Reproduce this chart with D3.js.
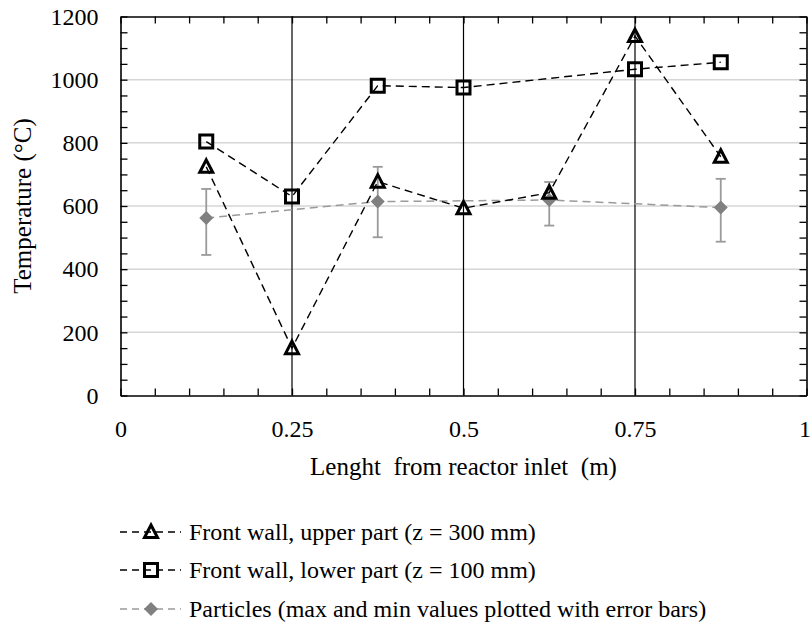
<!DOCTYPE html>
<html>
<head>
<meta charset="utf-8">
<script src="https://cdn.jsdelivr.net/npm/d3@7"></script>
<style>
  body { margin: 0; background: #fff; }
  svg text { font-family: 'Liberation Serif', 'DejaVu Serif', serif !important; fill: #000; }
</style>
</head>
<body>
<script>
// data
var upperX = [0.125, 0.25, 0.375, 0.5, 0.625, 0.75, 0.875];
var upperT = [724, 150, 677, 593, 642, 1138, 756];

var lowerX = [0.125, 0.25, 0.375, 0.5, 0.75, 0.875];
var lowerT = [804, 630, 981, 975, 1033, 1055];

var partX = [0.125, 0.375, 0.625, 0.875];
var partT = [562, 614, 619, 595];
var partMax = [654, 724, 676, 686];
var partMin = [445, 501, 538, 487];

var xTicks = [0, 0.25, 0.5, 0.75, 1];
var xTickLabels = ["0", "0.25", "0.5", "0.75", "1"];
var yTicks = [0, 200, 400, 600, 800, 1000, 1200];
var gridY = [200, 400, 600, 800, 1000];
var vLines = [0.25, 0.5, 0.75];

var legendLabels = [
    "Front wall, upper part (z = 300 mm)",
    "Front wall, lower part (z = 100 mm)",
    "Particles (max and min values plotted with error bars)"
];

var serif = "'Liberation Serif', 'DejaVu Serif', serif";

var margin = {top: 16.5, left: 120.5},
    width = 686,
    height = 379;

var svg = d3.select("body").append("svg")
    .attr("width", 811)
    .attr("height", 631)
    .style("font-family", serif);

var g = svg.append("g")
    .attr("transform", "translate(" + margin.left + "," + margin.top + ")");

var x = d3.scaleLinear().domain([0, 1]).range([0, width]);
var y = d3.scaleLinear().domain([0, 1200]).range([height, 0]);

// grid
g.selectAll(".grid")
    .data(gridY)
    .enter()
    .append("line")
    .attr("class", "grid")
    .attr("x1", 0).attr("x2", width)
    .attr("y1", d => y(d)).attr("y2", d => y(d))
    .attr("stroke", "#d6d6d6")
    .attr("stroke-width", 1.5);

g.selectAll(".vline")
    .data(vLines)
    .enter()
    .append("line")
    .attr("class", "vline")
    .attr("x1", d => x(d)).attr("x2", d => x(d))
    .attr("y1", 0).attr("y2", height)
    .attr("stroke", "#000")
    .attr("stroke-width", 1.2);

// axes with inward ticks on all four sides
var xMinor = d3.range(0, 1.0001, 0.05);
var yMinor = d3.range(0, 1200.1, 50);
var fmtX = function(d) {
    var i = xTicks.findIndex(t => Math.abs(t - d) < 1e-6);
    return i >= 0 ? xTickLabels[i] : "";
};
var fmtY = function(d) { return yTicks.indexOf(Math.round(d)) >= 0 ? d : ""; };

function styleAxis(sel) {
    sel.attr("font-family", null).attr("font-size", null);
    sel.select(".domain").attr("stroke", "#000").attr("stroke-width", 1.6);
    sel.selectAll(".tick line").attr("stroke", "#000").attr("stroke-width", 1.3);
    sel.selectAll(".tick text")
        .style("font-family", serif)
        .attr("font-size", 24)
        .attr("fill", "#000");
}

g.append("g")
    .attr("transform", "translate(0," + height + ")")
    .call(d3.axisBottom(x).tickValues(xMinor).tickSize(-7).tickSizeOuter(0).tickPadding(24).tickFormat(fmtX))
    .call(styleAxis)
    .selectAll(".tick text")
    .attr("dx", d => d > 0.99 ? -2 : 0);
g.append("g")
    .call(d3.axisTop(x).tickValues(xMinor).tickSize(-7).tickSizeOuter(0).tickFormat(""))
    .call(styleAxis);
g.append("g")
    .call(d3.axisLeft(y).tickValues(yMinor).tickSize(-7).tickSizeOuter(0).tickPadding(22).tickFormat(fmtY))
    .call(styleAxis);
g.append("g")
    .attr("transform", "translate(" + width + ",0)")
    .call(d3.axisRight(y).tickValues(yMinor).tickSize(-7).tickSizeOuter(0).tickFormat(""))
    .call(styleAxis);

// axis titles
g.append("text")
    .attr("x", width / 2)
    .attr("y", 458.5)
    .attr("text-anchor", "middle")
    .attr("font-size", 25)
    .style("white-space", "pre")
    .text("Lenght  from reactor inlet  (m)");

g.append("text")
    .attr("transform", "translate(" + (31 - margin.left) + "," + (height / 2) + ") rotate(-90)")
    .attr("text-anchor", "middle")
    .attr("font-size", 25)
    .text("Temperature (°C)");

// series
var line = d3.line().x(d => x(d[0])).y(d => y(d[1]));
var partPts = d3.zip(partX, partT);
var upperPts = d3.zip(upperX, upperT);
var lowerPts = d3.zip(lowerX, lowerT);

g.append("path")
    .datum(partPts)
    .attr("d", line)
    .attr("fill", "none")
    .attr("stroke", "#9a9a9a")
    .attr("stroke-width", 1.5)
    .attr("stroke-dasharray", "8,5");

var err = g.selectAll(".err")
    .data(d3.range(partX.length))
    .enter()
    .append("g")
    .attr("class", "err")
    .attr("stroke", "#9a9a9a")
    .attr("stroke-width", 1.8);
err.append("line")
    .attr("x1", i => x(partX[i])).attr("x2", i => x(partX[i]))
    .attr("y1", i => y(partMax[i])).attr("y2", i => y(partMin[i]));
err.append("line")
    .attr("x1", i => x(partX[i]) - 5).attr("x2", i => x(partX[i]) + 5)
    .attr("y1", i => y(partMax[i])).attr("y2", i => y(partMax[i]));
err.append("line")
    .attr("x1", i => x(partX[i]) - 5).attr("x2", i => x(partX[i]) + 5)
    .attr("y1", i => y(partMin[i])).attr("y2", i => y(partMin[i]));

g.append("path")
    .datum(upperPts)
    .attr("d", line)
    .attr("fill", "none")
    .attr("stroke", "#000")
    .attr("stroke-width", 1.4)
    .attr("stroke-dasharray", "8,5");

g.append("path")
    .datum(lowerPts)
    .attr("d", line)
    .attr("fill", "none")
    .attr("stroke", "#000")
    .attr("stroke-width", 1.4)
    .attr("stroke-dasharray", "8,5");

var diamond = "M0,-7L7,0L0,7L-7,0Z";
var square = "M-6.5,-6.5H6.5V6.5H-6.5Z";
var triangle = "M0,-7L6.5,5.5H-6.5Z";

g.selectAll(".pmark")
    .data(partPts)
    .enter()
    .append("path")
    .attr("class", "pmark")
    .attr("transform", d => "translate(" + x(d[0]) + "," + y(d[1]) + ")")
    .attr("d", diamond)
    .attr("fill", "#808080");

g.selectAll(".lmark")
    .data(lowerPts)
    .enter()
    .append("path")
    .attr("class", "lmark")
    .attr("transform", d => "translate(" + x(d[0]) + "," + y(d[1]) + ")")
    .attr("d", square)
    .attr("fill", "none")
    .attr("stroke", "#000")
    .attr("stroke-width", 3);

g.selectAll(".umark")
    .data(upperPts)
    .enter()
    .append("path")
    .attr("class", "umark")
    .attr("transform", d => "translate(" + x(d[0]) + "," + y(d[1]) + ")")
    .attr("d", triangle)
    .attr("fill", "none")
    .attr("stroke", "#000")
    .attr("stroke-width", 3)
    .attr("stroke-linejoin", "miter");

// legend
var legend = svg.append("g").attr("class", "legend");
var rowY = [532, 570, 609];
var legStyle = [
    {stroke: "#000", mark: triangle, fill: "none", ms: "#000"},
    {stroke: "#000", mark: square, fill: "none", ms: "#000"},
    {stroke: "#9a9a9a", mark: diamond, fill: "#808080", ms: "none"}
];

var rows = legend.selectAll(".row")
    .data(legendLabels)
    .enter()
    .append("g")
    .attr("class", "row")
    .attr("transform", (d, i) => "translate(0," + rowY[i] + ")");

rows.append("line")
    .attr("x1", 120).attr("x2", 181)
    .attr("stroke", (d, i) => legStyle[i].stroke)
    .attr("stroke-width", 1.4)
    .attr("stroke-dasharray", "7,5");
rows.append("path")
    .attr("transform", "translate(151,0)")
    .attr("d", (d, i) => legStyle[i].mark)
    .attr("fill", (d, i) => legStyle[i].fill)
    .attr("stroke", (d, i) => legStyle[i].ms)
    .attr("stroke-width", 3);
rows.append("text")
    .attr("x", 189)
    .attr("dy", "0.32em")
    .attr("font-size", 24)
    .text(d => d);
</script>
</body>
</html>
